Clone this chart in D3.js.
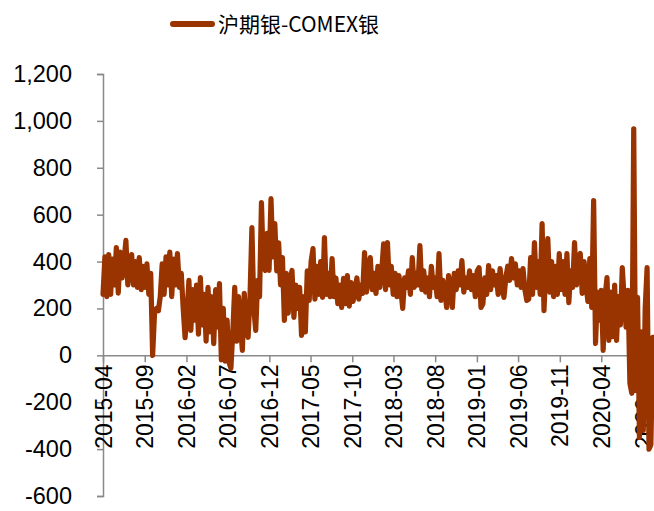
<!DOCTYPE html>
<meta charset="utf-8">
<script src="https://d3js.org/d3.v7.min.js"></script>
<style>
body { margin:0; background:#fff; overflow:hidden; }
</style>
<svg width="654" height="511"></svg>
<script>

// weekly series, first point 2015-04-01
var startDate = "2015-04-01";
var seriesName = "沪期银-COMEX银";
var values = [
  260, 420, 250, 430, 260, 410, 300, 460, 265, 440,
  330, 400, 490, 300, 380, 430, 300, 400, 290, 417,
  280, 380, 290, 390, 260, 350, 0, 180, 200, 190,
  250, 390, 260, 420, 300, 440, 250, 410, 300, 434,
  290, 350, 200, 75, 180, 320, 106, 280, 150, 300,
  90, 332, 130, 260, 60, 290, 100, 250, 50, 280,
  120, 306, -20, 200, -25, 150, -30, -55, 100, 290,
  60, 250, 130, 21, 264, 110, 77, 250, 545, 200,
  106, 320, 250, 651, 380, 362, 520, 362, 668, 420,
  562, 360, 480, 300, 417, 149, 350, 180, 320, 362,
  162, 300, 200, 290, 85, 250, 100, 360, 234, 400,
  455, 240, 380, 260, 400, 247, 502, 260, 350, 250,
  413, 250, 330, 220, 300, 204, 328, 220, 340, 210,
  310, 230, 280, 330, 240, 300, 264, 438, 270, 360,
  417, 280, 350, 264, 380, 290, 360, 476, 280, 481,
  300, 380, 260, 350, 250, 340, 280, 200, 330, 290,
  360, 260, 417, 290, 350, 300, 468, 280, 360, 270,
  330, 250, 380, 290, 330, 250, 434, 234, 320, 280,
  204, 340, 290, 204, 350, 280, 360, 300, 404, 270,
  330, 290, 360, 280, 340, 250, 360, 374, 204, 220,
  330, 260, 383, 280, 360, 300, 340, 260, 370, 300,
  247, 330, 380, 320, 413, 330, 390, 300, 360, 290,
  370, 280, 234, 240, 417, 260, 481, 290, 400, 260,
  562, 191, 380, 498, 270, 400, 250, 380, 260, 434,
  280, 400, 260, 434, 225, 360, 290, 481, 300, 420,
  434, 264, 400, 300, 230, 413, 204, 660, 51, 270,
  150, 277, 21, 250, 332, 64, 270, 80, 300, 64,
  250, 130, 374, 240, 120, 277, -119, -162, 966, -150,
  247, -350, 100, -320, 200, 374, -400, -380, 77
];
var xTickLabels = ["2015-04","2015-09","2016-02","2016-07","2016-12","2017-05","2017-10",
  "2018-03","2018-08","2019-01","2019-06","2019-11","2020-04","2020-09"];
var yTicks = [-600, -400, -200, 0, 200, 400, 600, 800, 1000, 1200];

var lineColor = '#993300';
var axisColor = '#898989';

var svg = d3.select('svg');
var parseDay = d3.timeParse('%Y-%m-%d');
var parseMonth = d3.timeParse('%Y-%m');
var t0 = parseDay(startDate);

var data = values.map(function(v, i) {
  return { date: d3.timeDay.offset(t0, i * 7), value: v };
});
var tickDates = xTickLabels.map(function(s) { return parseMonth(s) });

// first and last labelled month pin the pixel span, then stretch past the right edge
var x = d3.scaleTime()
  .domain([tickDates[0], tickDates[tickDates.length - 1]])
  .range([103, 643]);
x.domain([tickDates[0], x.invert(660)]).range([103, 660]);

var y = d3.scaleLinear().domain([-600, 1200]).range([496, 74]);

var fmt = d3.format(',');

// y axis
var yAxis = svg.append('g')
  .attr('transform', 'translate(103,0)')
  .call(d3.axisLeft(y).tickValues(yTicks).tickSize(6).tickPadding(25)
    .tickFormat(function(d) { return fmt(d).replace('\u2212', '-') }));
yAxis.selectAll('path, line').attr('stroke', axisColor).attr('stroke-width', 1.5);
yAxis.selectAll('text')
  .attr('font-family', "'Liberation Sans', Arial, sans-serif")
  .attr('font-size', 23.5)
  .attr('fill', '#000');

// x axis at zero
var xAxis = svg.append('g')
  .attr('transform', 'translate(0,' + y(0) + ')')
  .call(d3.axisBottom(x).tickValues(tickDates).tickSize(7).tickSizeOuter(0)
    .tickFormat(d3.timeFormat('%Y-%m')));
xAxis.selectAll('path, line').attr('stroke', axisColor).attr('stroke-width', 1.5);
xAxis.selectAll('text')
  .attr('font-family', "'Liberation Sans', Arial, sans-serif")
  .attr('font-size', 23)
  .attr('fill', '#000')
  .attr('transform', 'rotate(-90)')
  .attr('text-anchor', 'end')
  .attr('x', -9)
  .attr('y', 0)
  .attr('dy', '0.35em');

// the series
var line = d3.line()
  .x(function(d) { return x(d.date) })
  .y(function(d) { return y(d.value) });

svg.append('path')
  .datum(data)
  .attr('d', line)
  .attr('fill', 'none')
  .attr('stroke', lineColor)
  .attr('stroke-width', 5.2)
  .attr('stroke-linejoin', 'round')
  .attr('stroke-linecap', 'round');

// legend
var legend = svg.append('g');
legend.append('line')
  .attr('x1', 173).attr('x2', 212)
  .attr('y1', 24).attr('y2', 24)
  .attr('stroke', lineColor)
  .attr('stroke-width', 6)
  .attr('stroke-linecap', 'round');
legend.append('text')
  .attr('x', 218)
  .attr('y', 32)
  .attr('font-family', "'Noto Sans CJK SC', sans-serif")
  .attr('font-size', 21)
  .attr('fill', '#000')
  .text(seriesName);

</script>
